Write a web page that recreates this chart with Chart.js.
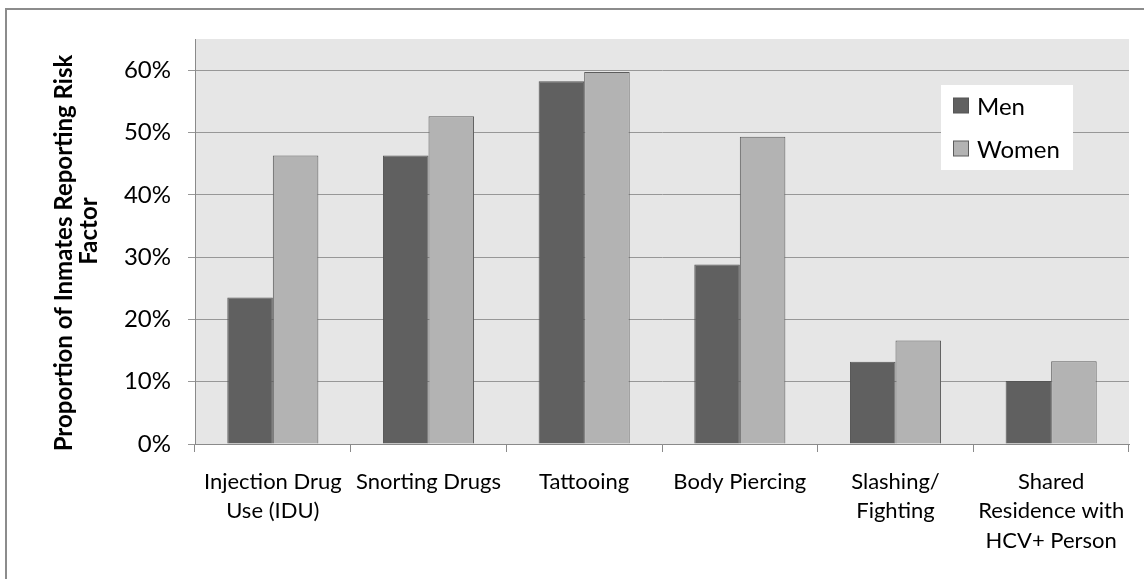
<!DOCTYPE html>
<html>
<head>
<meta charset="utf-8">
<title>Risk factors reported by inmates</title>
<script src="https://cdn.jsdelivr.net/npm/chart.js@4.4.1/dist/chart.umd.min.js"></script>
<style>
  html, body { margin: 0; padding: 0; background: #ffffff; }
  #wrap { position: relative; width: 1144px; height: 579px; }
</style>
</head>
<body>
<div id="wrap"><canvas id="chart"></canvas></div>
<script>
// Risk factor categories (multi-line labels)
const categories = [
  ['Injection Drug', 'Use (IDU)'],
  ['Snorting Drugs'],
  ['Tattooing'],
  ['Body Piercing'],
  ['Slashing/', 'Fighting'],
  ['Shared', 'Residence with', 'HCV+ Person']
];

// Proportion of inmates reporting each factor
const menValues   = [0.235, 0.463, 0.582, 0.288, 0.132, 0.101];
const womenValues = [0.463, 0.526, 0.597, 0.493, 0.166, 0.133];

const seriesNames = ['Men', 'Women'];
const yTickValues = [0, 0.1, 0.2, 0.3, 0.4, 0.5, 0.6];
const yAxisTitle = ['Proportion of Inmates Reporting Risk', 'Factor'];

const FONT = 'Lato, "Open Sans", "DejaVu Sans", sans-serif';

// Frame around the whole chart and grey plot background
const backdrop = {
  id: 'backdrop',
  beforeDraw(chart) {
    const { ctx, chartArea: a } = chart;
    ctx.save();
    ctx.fillStyle = '#ffffff';
    ctx.fillRect(0, 0, chart.width, chart.height);
    ctx.strokeStyle = '#8c8c8c';
    ctx.lineWidth = 2;
    ctx.strokeRect(6, 9, chart.width + 40, chart.height + 40);
    ctx.fillStyle = '#e6e6e6';
    ctx.fillRect(a.left, a.top, a.right - a.left, a.bottom - a.top);
    ctx.restore();
  }
};

// Rotated two-line axis title and the boxed legend inside the plot
const overlay = {
  id: 'overlay',
  afterDraw(chart) {
    const { ctx } = chart;
    ctx.save();
    // y-axis title
    ctx.fillStyle = '#000000';
    ctx.font = 'bold 24px ' + FONT;
    ctx.textAlign = 'center';
    ctx.textBaseline = 'middle';
    const titlePos = [[64, 253], [89, 231]];
    yAxisTitle.forEach((line, i) => {
      ctx.save();
      ctx.translate(titlePos[i][0], titlePos[i][1]);
      ctx.rotate(-Math.PI / 2);
      ctx.fillText(line, 0, 0);
      ctx.restore();
    });

    // legend
    ctx.fillStyle = '#ffffff';
    ctx.fillRect(941, 85, 132, 85);
    ctx.font = '24px ' + FONT;
    ctx.textAlign = 'left';
    ctx.textBaseline = 'middle';
    chart.data.datasets.forEach((ds, i) => {
      const cy = 106 + i * 43;
      ctx.fillStyle = ds.backgroundColor;
      ctx.fillRect(953.5, cy - 8, 15, 15);
      ctx.strokeStyle = ds.borderColor;
      ctx.lineWidth = 1;
      ctx.strokeRect(953.5, cy - 8, 15, 15);
      ctx.fillStyle = '#000000';
      ctx.fillText(ds.label, 977, cy + 1);
    });
    ctx.restore();
  }
};

new Chart(document.getElementById('chart'), {
  type: 'bar',
  data: {
    labels: categories,
    datasets: [
      {
        label: seriesNames[0],
        data: menValues,
        backgroundColor: '#606060',
        borderColor: '#555555',
        borderWidth: 1,
        categoryPercentage: 0.585,
        barPercentage: 1.0
      },
      {
        label: seriesNames[1],
        data: womenValues,
        backgroundColor: '#b3b3b3',
        borderColor: '#5c5c5c',
        borderWidth: 1,
        categoryPercentage: 0.585,
        barPercentage: 1.0
      }
    ]
  },
  options: {
    responsive: true,
    maintainAspectRatio: false,
    animation: false,
    devicePixelRatio: 1,
    layout: { padding: { top: 39, right: 15, bottom: 0, left: 0 } },
    plugins: {
      legend: { display: false },
      tooltip: { enabled: false },
      title: { display: false }
    },
    scales: {
      x: {
        offset: true,
        grid: {
          offset: true,
          drawOnChartArea: false,
          drawTicks: true,
          tickLength: 8,
          color: '#8a8a8a'
        },
        border: { display: true, color: '#8a8a8a', width: 1 },
        ticks: {
          color: '#000000',
          padding: 15,
          maxRotation: 0,
          autoSkip: false,
          font: { family: FONT, size: 22, lineHeight: 1.34 }
        },
        afterFit(scale) { scale.height = 135; }
      },
      y: {
        min: 0,
        max: 0.65,
        afterBuildTicks(scale) {
          scale.ticks = yTickValues.map(v => ({ value: v }));
        },
        grid: {
          color: '#979797',
          lineWidth: 1,
          drawTicks: true,
          tickLength: 7
        },
        border: { display: true, color: '#8a8a8a', width: 1 },
        ticks: {
          color: '#000000',
          padding: 17,
          font: { family: FONT, size: 24 },
          callback: v => Math.round(v * 100) + '%'
        },
        afterFit(scale) { scale.width = 195; }
      }
    }
  },
  plugins: [backdrop, overlay]
});
</script>
</body>
</html>
